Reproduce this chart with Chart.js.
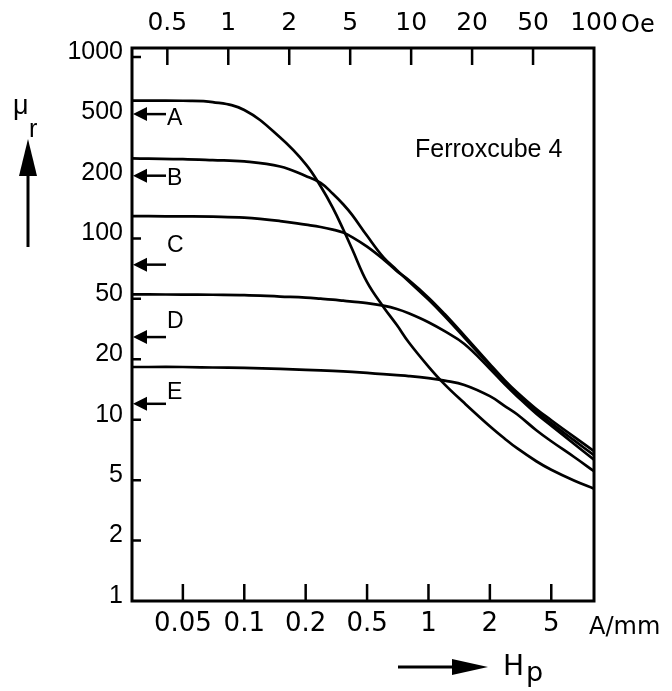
<!DOCTYPE html>
<html><head><meta charset="utf-8">
<script src="https://cdn.jsdelivr.net/npm/chart.js@4/dist/chart.umd.min.js"></script>
<style>html,body{margin:0;padding:0;background:#fff;}#wrap{width:672px;height:691px;position:relative;}</style>
</head><body><div id="wrap"><canvas id="c" width="672" height="691"></canvas></div>
<script>
// ---- data ----
const fieldAmm = [0.0234, 0.03, 0.05, 0.07, 0.1, 0.15, 0.2, 0.25, 0.3, 0.35, 0.4, 0.5, 0.6, 0.7, 0.8, 1, 1.2, 1.5, 2, 2.5, 3, 4, 5, 6.5, 8.1];
const muA = [607, 607, 606, 597, 545, 369, 247, 182, 142, 111, 88.5, 60.5, 44.4, 33.6, 25.9, 18.4, 15.0, 12.1, 9.28, 8.04, 7.21, 6.21, 5.63, 4.95, 4.39];
const muB = [269, 268, 266, 262, 257, 238, 206, 189, 167, 148, 131, 103, 80.7, 69.5, 61.2, 49.4, 38.5, 27.8, 18.6, 15.5, 13.4, 11.0, 9.61, 7.86, 6.65];
const muC = [129, 129, 128.7, 128.3, 126.9, 122, 117, 114, 110.6, 106.9, 101.5, 91, 78.8, 68.7, 62.0, 50.7, 39.7, 28.6, 18.9, 15.7, 13.7, 11.3, 9.94, 8.18, 6.97];
const muD = [52.6, 52.6, 52.5, 52.4, 52.2, 51.3, 50.7, 50.1, 49.4, 48.6, 47.9, 46.9, 45.1, 42.9, 40.2, 35.1, 30.6, 25.2, 17.95, 15.0, 13.1, 10.7, 9.34, 7.55, 6.32];
const muE = [18.3, 18.3, 18.3, 18.2, 18.1, 17.9, 17.7, 17.6, 17.5, 17.4, 17.3, 17.1, 16.85, 16.67, 16.5, 16.1, 15.65, 14.9, 13.1, 11.7, 10.65, 8.86, 7.81, 6.50, 5.54];
const curveNames = ['A', 'B', 'C', 'D', 'E'];
const initialMu = [520, 207, 74, 28, 12];
const bottomTicks = [0.05, 0.1, 0.2, 0.5, 1, 2, 5];
const topTicksOe = [0.5, 1, 2, 5, 10, 20, 50, 100];
const leftTicks = [1, 2, 5, 10, 20, 50, 100, 200, 500, 1000];
const leftTickMarks = [2, 5, 10, 20, 50, 100, 1000];
const muSeries = [muA, muB, muC, muD, muE];

// ---- 1-2-5 stepped logarithmic scale (equal spacing between 1, 2, 5, 10 ...) ----
function stepPos(v) {
  const e = Math.floor(Math.log10(v) + 1e-9);
  const m = v / Math.pow(10, e);
  let r;
  if (m < 2) r = Math.log(m) / Math.log(2);
  else if (m < 5) r = 1 + Math.log(m / 2) / Math.log(2.5);
  else r = 2 + Math.log(m / 5) / Math.log(2);
  return 3 * e + r;
}
function stepInv(f) {
  const e = Math.floor(f / 3);
  const r = f - 3 * e;
  let m;
  if (r < 1) m = Math.pow(2, r);
  else if (r < 2) m = 2 * Math.pow(2.5, r - 1);
  else m = 5 * Math.pow(2, r - 2);
  return m * Math.pow(10, e);
}
const scaleTickValues = { x: bottomTicks, x2: topTicksOe, y: leftTicks };
class StepScale extends Chart.Scale {
  determineDataLimits() { this.min = this.options.min; this.max = this.options.max; }
  buildTicks() { return (scaleTickValues[this.id] || []).map(v => ({ value: v })); }
  getLabelForValue(v) { return String(v); }
  configure() { super.configure(); this._f0 = stepPos(this.min); this._f1 = stepPos(this.max); }
  getPixelForValue(v) { return this.getPixelForDecimal((stepPos(v) - this._f0) / (this._f1 - this._f0)); }
  getValueForPixel(p) { return stepInv(this._f0 + this.getDecimalForPixel(p) * (this._f1 - this._f0)); }
}
StepScale.id = 'steplog';
StepScale.defaults = {};
Chart.register(StepScale);

const SANS = "'DejaVu Sans', sans-serif";
const HELV = "'Liberation Sans', Arial, sans-serif";

const decor = {
  id: 'decor',
  afterDraw(chart) {
    const { ctx, chartArea: a, scales } = chart;
    const x = scales.x, x2 = scales.x2, y = scales.y;
    ctx.save();
    ctx.strokeStyle = '#000'; ctx.fillStyle = '#000';
    // frame
    ctx.lineWidth = 3;
    ctx.strokeRect(a.left, a.top, a.right - a.left, a.bottom - a.top);
    // inward tick marks
    ctx.lineWidth = 2.5;
    ctx.beginPath();
    bottomTicks.forEach(v => { const p = x.getPixelForValue(v); ctx.moveTo(p, a.bottom); ctx.lineTo(p, a.bottom - 17); });
    topTicksOe.forEach(v => { const p = x2.getPixelForValue(v); if (p > a.right - 3) return; ctx.moveTo(p, a.top); ctx.lineTo(p, a.top + 17); });
    leftTickMarks.forEach(v => { const p = y.getPixelForValue(v); ctx.moveTo(a.left, p); ctx.lineTo(a.left + 9, p); });
    ctx.stroke();
    // initial permeability arrows + curve letters
    const letterDy = [5, 3, -19, -15, -11];
    ctx.font = '23px ' + HELV;
    ctx.textBaseline = 'middle'; ctx.textAlign = 'left';
    initialMu.forEach((v, i) => {
      const p = y.getPixelForValue(v);
      ctx.beginPath(); ctx.lineWidth = 2.5;
      ctx.moveTo(a.left + 13, p); ctx.lineTo(a.left + 34, p); ctx.stroke();
      ctx.beginPath();
      ctx.moveTo(a.left + 1, p); ctx.lineTo(a.left + 15, p - 7); ctx.lineTo(a.left + 15, p + 7); ctx.closePath(); ctx.fill();
      ctx.fillText(curveNames[i], a.left + 35, p + letterDy[i]);
    });
    // material label
    ctx.textBaseline = 'alphabetic';
    ctx.font = '25px ' + HELV;
    ctx.fillText('Ferroxcube 4', 415, 157);
    // unit labels
    ctx.font = '24px ' + SANS;
    ctx.fillText('A/mm', 589, 634);
    ctx.fillText('Oe', 621, 32);
    // H_p with arrow
    ctx.font = '28px ' + SANS;
    ctx.fillText('H', 503, 675);
    ctx.font = '27px ' + SANS;
    ctx.fillText('p', 526, 681);
    ctx.lineWidth = 3;
    ctx.beginPath(); ctx.moveTo(398, 667); ctx.lineTo(455, 667); ctx.stroke();
    ctx.beginPath(); ctx.moveTo(488, 667); ctx.lineTo(452, 659); ctx.lineTo(452, 675); ctx.closePath(); ctx.fill();
    // mu_r with up arrow
    ctx.font = '27px ' + HELV;
    ctx.fillText('\u03bc', 13, 114);
    ctx.font = '25px ' + HELV;
    ctx.fillText('r', 29, 137);
    ctx.beginPath(); ctx.moveTo(28, 247); ctx.lineTo(28, 172); ctx.stroke();
    ctx.beginPath(); ctx.moveTo(28, 139); ctx.lineTo(19, 176); ctx.lineTo(37, 176); ctx.closePath(); ctx.fill();
    ctx.restore();
  }
};

new Chart(document.getElementById('c'), {
  type: 'scatter',
  data: {
    datasets: curveNames.map((n, i) => ({
      label: n,
      data: fieldAmm.map((h, j) => ({ x: h, y: muSeries[i][j] })),
      showLine: true, borderColor: '#000', backgroundColor: '#000', borderWidth: 2.7,
      pointRadius: 0, pointHoverRadius: 0, tension: 0.4, fill: false,
      xAxisID: 'x', yAxisID: 'y'
    }))
  },
  options: {
    responsive: false, animation: false, devicePixelRatio: 1,
    events: [],
    layout: { padding: { left: 0, right: 78, top: 0, bottom: 0 } },
    plugins: { legend: { display: false }, tooltip: { enabled: false } },
    scales: {
      x: {
        type: 'steplog', axis: 'x', position: 'bottom', min: 0.0234, max: 8.1,
        grid: { display: false, drawTicks: false }, border: { display: false },
        ticks: { autoSkip: false, maxRotation: 0, padding: 8, color: '#000', font: { family: SANS, size: 26 }, callback: v => String(v) },
        afterFit: s => { s.height = 90; }
      },
      x2: {
        type: 'steplog', axis: 'x', position: 'top', min: 0.294, max: 100,
        grid: { display: false, drawTicks: false }, border: { display: false },
        ticks: { autoSkip: false, maxRotation: 0, padding: 10, color: '#000', font: { family: SANS, size: 25 }, callback: v => String(v) },
        afterFit: s => { s.height = 48; }
      },
      y: {
        type: 'steplog', axis: 'y', position: 'left', min: 1, max: 1110,
        grid: { display: false, drawTicks: false }, border: { display: false },
        ticks: { autoSkip: false, padding: 9, labelOffset: -5, color: '#000', font: { family: HELV, size: 25 }, callback: v => String(v) },
        afterFit: s => { s.width = 132; }
      }
    }
  },
  plugins: [decor]
});
</script></body></html>
